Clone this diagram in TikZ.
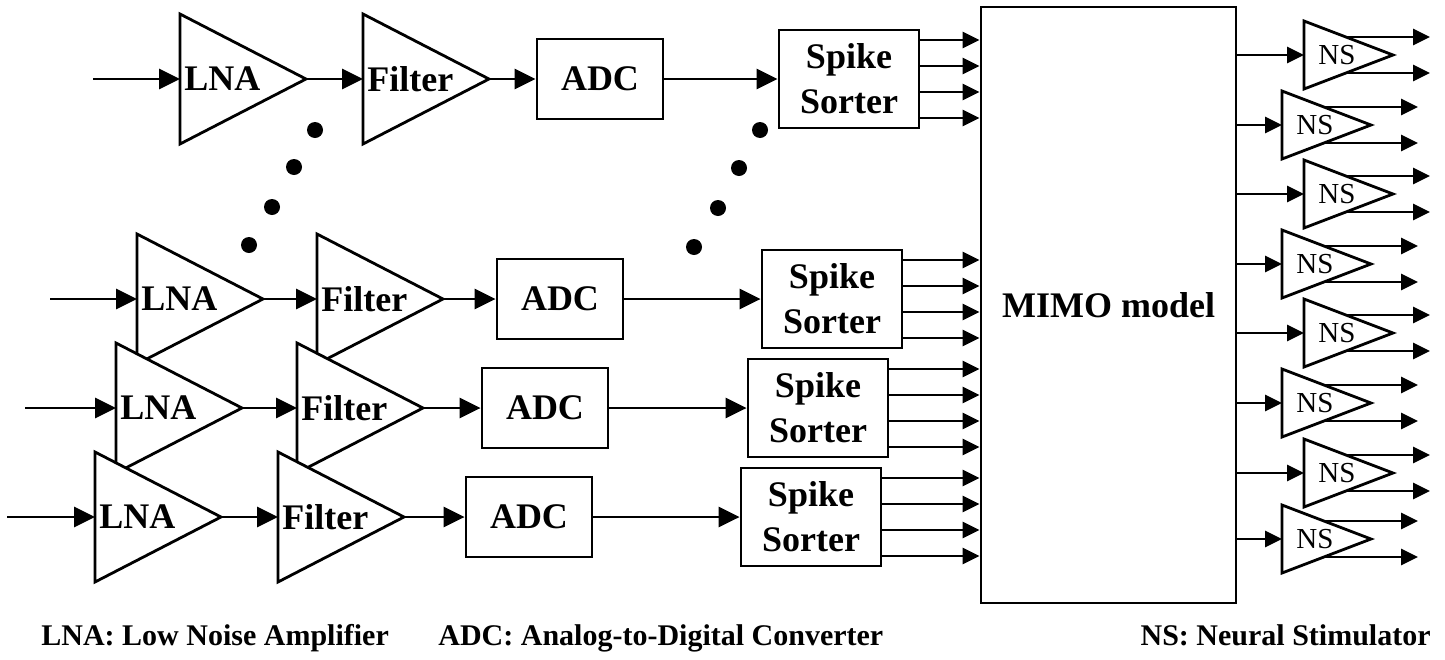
\documentclass[tikz,border=0pt]{standalone}
\usepackage{fontspec}
\setmainfont{Liberation Serif}
\usetikzlibrary{arrows.meta}

% amplifier triangle: name, left x, centre y, label
\newcommand{\amptri}[4]{%
  \draw[fill=white] (#2,#3-65) -- (#2+126,#3) -- (#2,#3+65) -- cycle;
  \coordinate (#1-in) at (#2,#3);
  \coordinate (#1-out) at (#2+126,#3);
  \node[lbl, anchor=west, inner sep=3pt] (#1) at (#2,#3) {#4};%
}
% stimulator triangle: name, left x, centre y, tip x of outputs
\newcommand{\nstri}[4]{%
  \draw[fill=white] (#2,#3-34) -- (#2+89,#3) -- (#2,#3+34) -- cycle;
  \coordinate (#1-in) at (#2,#3);
  \coordinate (#1-up) at (#2+42,#3-18);
  \coordinate (#1-dn) at (#2+42,#3+18);
  \coordinate (#1-upend) at (#4,#3-18);
  \coordinate (#1-dnend) at (#4,#3+18);
  \node[nslbl] (#1) at (#2+33,#3) {NS};%
}

\begin{document}
\begin{tikzpicture}[x=1pt, y=-1pt, line width=2.8pt,
    lbl/.style={font=\fontsize{36}{45}\selectfont\bfseries},
    nslbl/.style={font=\fontsize{29}{34}\selectfont, inner sep=0pt},
    box/.style={draw, lbl, align=center},
    arr/.style={-{Triangle[length=21pt,width=20pt]}},
    smallarr/.style={-{Triangle[length=17pt,width=16pt]}},
    legend/.style={font=\fontsize{30}{36}\selectfont\bfseries, inner sep=0pt}]
    \useasboundingbox (0,0) rectangle (1445,659);

    % MIMO model
    \node[box, minimum width=255pt, minimum height=596pt] (mimo) at (1108.5,305) {MIMO model};

    % Channels: row / centre y / input x / LNA x / Filter x / ADC x / Sorter x
    \foreach \r/\cy/\ix/\lx/\fx/\ax/\ssx in {1/79/93/180/363/537/779,
                                           2/299/50/137/317/497/762,
                                           3/408/25/116/297/482/748,
                                           4/517/7/95/278/466/741} {
        \amptri{lna\r}{\lx}{\cy}{LNA}
        \amptri{flt\r}{\fx}{\cy}{Filter}
        \node[box, minimum width=126pt, minimum height=80pt] (adc\r) at (\ax+63,\cy) {ADC};
        \node[box, minimum width=140pt, minimum height=98pt] (spk\r) at (\ssx+70,\cy) {Spike\\Sorter};
        \coordinate (src\r) at (\ix,\cy);
        \draw[arr] (src\r) -- (lna\r-in);
        \draw[arr] (lna\r-out) -- (flt\r-in);
        \draw[arr] (flt\r-out) -- (adc\r);
        \draw[arr] (adc\r) -- (spk\r);
        % sorted spikes into the model
        \foreach \d in {39,13,-13,-39} {
            \path ([yshift=\d pt]spk\r.east) coordinate (o);
            \draw[smallarr] (o) -- (o -| mimo.west);
        }
    }

    % Dots between the channels
    \foreach \px/\py in {315/130, 294/167, 272/207, 249/245, 760/130, 739/168, 718/208, 694/247}
        \fill (\px,\py) circle (8pt);

    % Neural stimulators: index / left x / tip x / centre y
    \foreach \k/\nx/\tx/\ny in {1/1304/1430/55, 2/1282/1418/125, 3/1304/1430/194, 4/1282/1418/264,
                                5/1304/1430/333, 6/1282/1418/403, 7/1304/1430/473, 8/1282/1418/539} {
        \nstri{ns\k}{\nx}{\ny}{\tx}
        \draw[smallarr] (mimo.east |- ns\k-in) -- (ns\k-in);
        \draw[smallarr] (ns\k-up) -- (ns\k-upend);
        \draw[smallarr] (ns\k-dn) -- (ns\k-dnend);
    }

    % Legend
    \node[legend, anchor=base west] (leg1) at (40,645) {LNA: Low Noise Amplifier};
    \node[legend, anchor=base west] (leg2) at (437,645) {ADC: Analog-to-Digital Converter};
    \node[legend, anchor=base east] (leg3) at (1432,645) {NS: Neural Stimulator};
\end{tikzpicture}
\end{document}
